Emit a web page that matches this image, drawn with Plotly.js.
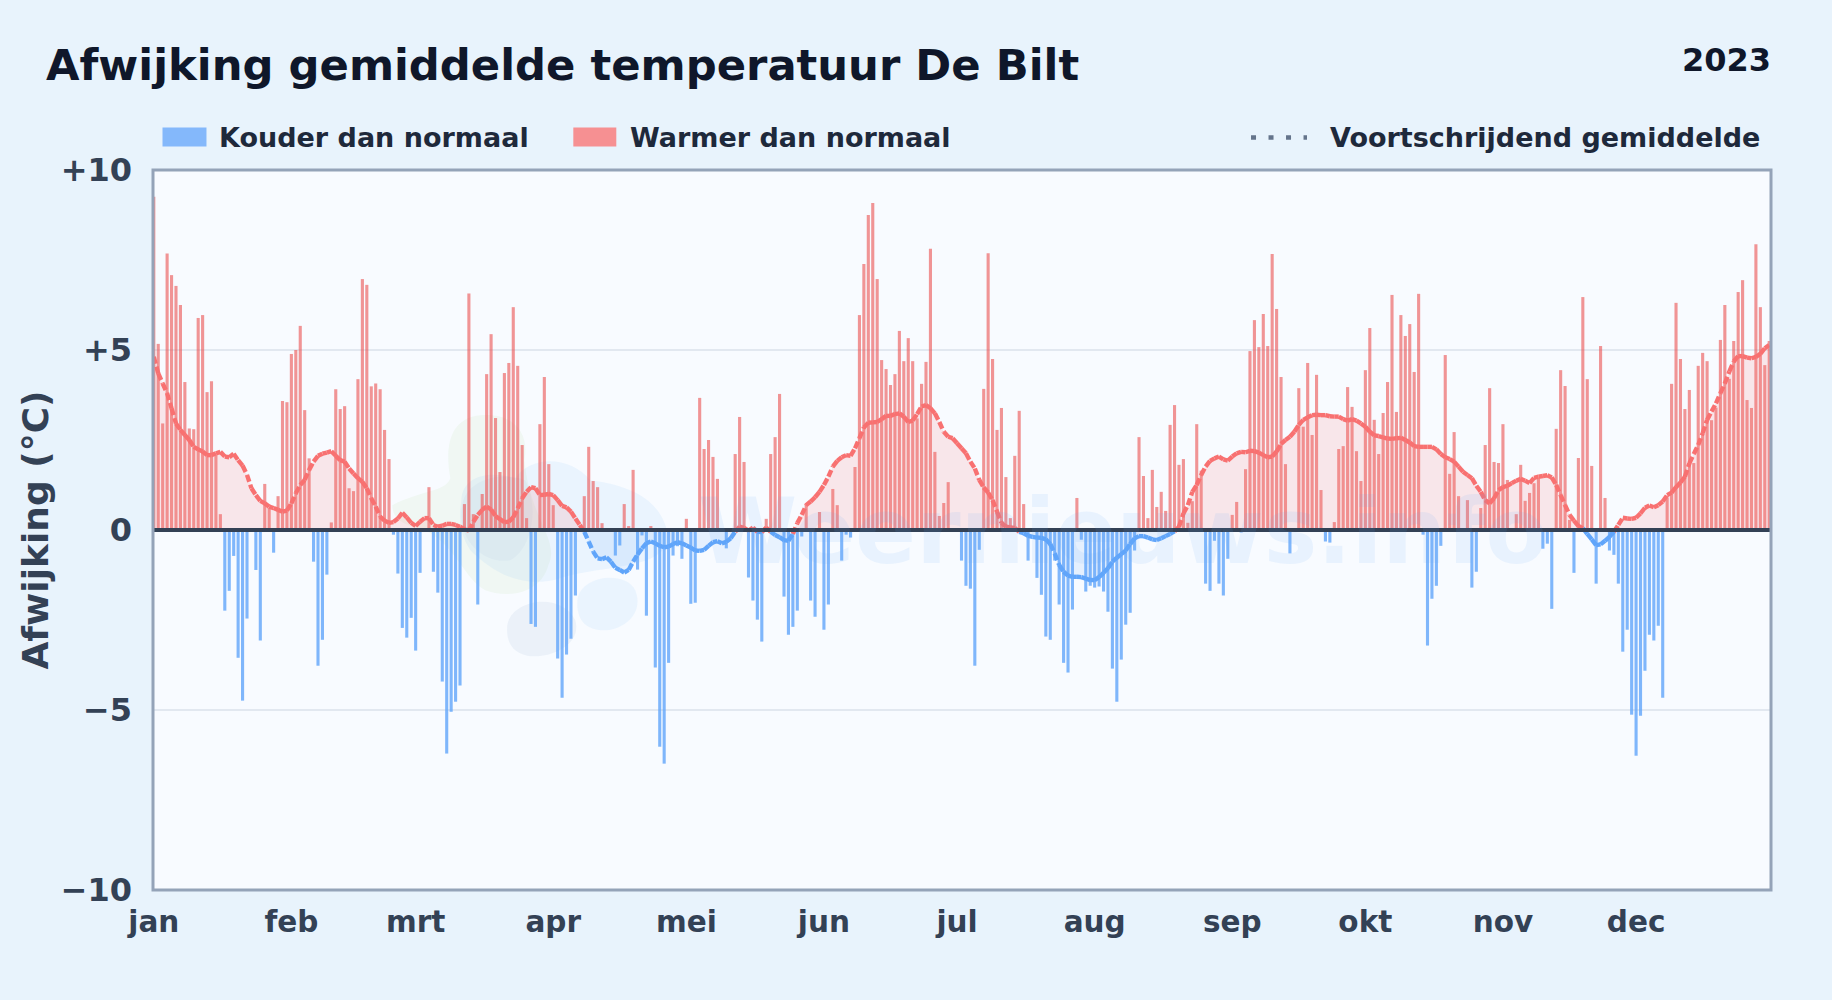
<!DOCTYPE html>
<html><head><meta charset="utf-8">
<script src="https://cdn.plot.ly/plotly-3.0.1.min.js"></script>
<style>html,body{margin:0;padding:0;background:#e8f3fc}#chart{width:1832px;height:1000px}</style>
</head><body><div id="chart"></div>
<script>
const titleText = "Afwijking gemiddelde temperatuur De Bilt";
const yearText = "2023";
const coldLabel = "Kouder dan normaal";
const warmLabel = "Warmer dan normaal";
const avgLabel = "Voortschrijdend gemiddelde";
const yTitle = "Afwijking (°C)";
const watermarkText = "Weernieuws.info";
const monthStarts = [0,31,59,90,120,151,181,212,243,273,304,334];
const monthLabels = ["jan","feb","mrt","apr","mei","jun","jul","aug","sep","okt","nov","dec"];
const yTicks = [10,5,0,-5,-10];
const yTickLabels = ["+10","+5","0","−5","−10"];

const dailyAnomaly = [
9.26,5.17,2.96,7.68,7.08,6.78,6.25,4.11,2.82,2.80,
5.89,5.97,3.83,4.13,2.08,0.44,-2.24,-1.69,-0.72,-3.55,
-4.74,-2.46,0,-1.11,-3.07,1.28,0.61,-0.63,0.94,3.58,
3.55,4.89,5.0,5.67,3.33,1.99,-0.88,-3.77,-3.05,-1.24,
0.21,3.91,3.36,3.44,1.16,1.08,4.19,6.97,6.81,3.99,
4.07,3.91,2.78,1.97,-0.13,-1.21,-2.72,-2.99,-2.44,-3.35,
-1.19,0,1.19,-1.16,-1.74,-4.21,-6.21,-5.05,-4.77,-4.32,
0.72,6.57,0.44,-2.07,1.0,4.33,5.44,3.11,1.61,4.36,
4.64,6.19,4.56,2.36,0.33,-2.61,-2.69,2.94,4.25,1.83,
0.69,-3.57,-4.66,-3.46,-3.02,-1.82,0,0.94,2.31,1.36,
1.19,0.19,0,0,-0.71,-0.43,0.72,0.11,1.67,-1.10,
-0.15,-2.38,0.11,-3.82,-6.02,-6.49,-3.69,-0.71,-0.45,-0.8,
0.31,-2.05,-2.02,3.67,2.25,2.5,2.03,1.42,0,-0.51,
0,2.11,3.14,1.89,-1.32,-1.96,-2.49,-3.10,0.31,2.11,
2.58,3.78,-1.85,-2.91,-2.69,-2.24,-0.18,0.74,-1.96,-2.41,
0.5,-2.77,-2.07,1.14,0.69,-0.85,-0.13,-0.21,1.75,5.97,
7.39,8.75,9.08,6.97,4.72,4.47,4.03,4.33,5.53,4.69,
5.33,4.69,3.1,4.06,4.67,7.81,2.17,0.39,0.75,1.33,
0,0,-0.85,-1.55,-1.63,-3.77,-0.55,3.92,7.69,4.75,
2.78,3.39,1.47,0.33,2.06,3.31,0.72,-0.85,0,-1.33,
-1.8,-2.96,-3.05,-0.85,-2.07,-3.69,-3.96,-2.21,0.89,-0.27,
-1.71,-1.55,-1.6,-1.57,-1.71,-2.27,-3.85,-4.77,-3.6,-2.63,
-2.3,-0.57,2.58,1.5,0.33,1.67,0.64,1.06,0.53,2.92,
3.47,1.81,1.97,0.2,0.8,2.94,1.65,-1.49,-1.69,-0.3,
-1.49,-1.82,-0.8,0.42,0.78,-0.07,1.69,4.97,5.83,5.08,
6.0,5.11,7.67,6.14,4.25,1.83,-0.65,0,3.94,2.87,
4.64,2.64,4.31,1.11,-0.32,-0.35,0.22,2.25,2.33,3.97,
3.42,2.19,1.36,4.44,5.61,3.06,2.11,3.25,4.11,6.53,
3.28,5.97,5.39,5.72,4.39,6.56,-0.13,-3.21,-1.91,-1.55,
-0.44,4.86,1.56,2.72,0.94,0,0.83,-1.6,-1.16,0.61,
2.36,3.94,1.89,1.86,2.94,1.39,0,0.44,1.81,0.81,
1.03,1.3,1.43,-0.52,-0.38,-2.19,2.81,4.44,4.0,0.28,
-1.19,2.0,6.47,4.19,1.78,-1.49,5.11,0.89,-0.57,-0.69,
-1.49,-3.38,-2.77,-5.13,-6.27,-5.16,-3.91,-2.91,-3.07,-2.66,
-4.66,0.9,4.06,6.31,4.75,3.36,3.89,1.86,4.56,4.92,
4.69,3.05,3.4,5.28,6.25,4.2,5.25,6.61,6.94,3.61,
3.39,7.94,6.19,4.58,5.25];

const rollingMean = [
4.81,4.35,4.07,3.8,3.38,2.96,2.78,2.64,2.5,2.31,
2.24,2.18,2.08,2.08,2.13,2.17,2.04,2.02,2.12,1.94,
1.79,1.53,1.16,0.97,0.81,0.74,0.65,0.61,0.56,0.51,
0.54,0.74,1.02,1.25,1.39,1.67,1.9,2.06,2.12,2.15,
2.19,2.06,1.94,1.9,1.71,1.57,1.44,1.34,1.16,0.88,
0.65,0.37,0.26,0.2,0.22,0.32,0.48,0.35,0.2,0.11,
0.23,0.33,0.33,0.14,0.09,0.12,0.17,0.17,0.14,0.09,
0.02,-0.02,0.23,0.42,0.56,0.65,0.57,0.39,0.3,0.22,
0.23,0.35,0.6,0.88,1.06,1.19,1.16,0.97,0.98,1.0,
0.97,0.83,0.67,0.63,0.51,0.32,0.14,-0.05,-0.32,-0.6,
-0.79,-0.81,-0.76,-0.88,-1.05,-1.11,-1.18,-1.11,-0.88,-0.68,
-0.51,-0.37,-0.32,-0.37,-0.44,-0.48,-0.46,-0.39,-0.34,-0.37,
-0.43,-0.49,-0.57,-0.58,-0.55,-0.44,-0.34,-0.31,-0.37,-0.33,
-0.23,-0.05,0.09,0.06,-0.02,0.07,-0.05,-0.06,0.07,-0.05,
-0.14,-0.2,-0.28,-0.3,-0.11,0.19,0.42,0.69,0.79,0.91,
1.06,1.25,1.48,1.76,1.92,2.02,2.08,2.06,2.27,2.55,
2.85,2.98,2.99,3.0,3.08,3.17,3.17,3.22,3.24,3.15,
3.0,3.04,3.22,3.43,3.47,3.38,3.24,3.0,2.73,2.59,
2.55,2.41,2.27,2.13,1.9,1.71,1.39,1.18,1.04,0.83,
0.51,0.2,0.09,0.07,0.06,-0.05,-0.09,-0.16,-0.19,-0.21,
-0.22,-0.26,-0.39,-0.65,-0.97,-1.16,-1.27,-1.3,-1.3,-1.31,
-1.35,-1.39,-1.39,-1.31,-1.19,-1.06,-0.88,-0.77,-0.67,-0.57,
-0.39,-0.23,-0.17,-0.17,-0.21,-0.26,-0.28,-0.23,-0.17,-0.11,
-0.04,0.09,0.46,0.69,1.06,1.25,1.53,1.76,1.92,1.99,
2.04,1.96,1.93,2.04,2.13,2.17,2.16,2.2,2.19,2.15,
2.08,2.02,2.04,2.18,2.39,2.5,2.59,2.73,2.92,3.06,
3.13,3.19,3.2,3.19,3.19,3.16,3.15,3.15,3.08,3.04,
3.08,3.04,2.96,2.87,2.73,2.63,2.61,2.57,2.54,2.53,
2.55,2.56,2.5,2.43,2.33,2.31,2.31,2.31,2.31,2.24,
2.11,2.02,1.97,1.9,1.76,1.62,1.53,1.44,1.23,1.06,
0.83,0.74,0.88,1.11,1.19,1.23,1.3,1.37,1.42,1.37,
1.3,1.45,1.48,1.5,1.52,1.46,1.25,0.97,0.69,0.42,
0.26,0.11,0.05,-0.11,-0.26,-0.42,-0.4,-0.3,-0.19,-0.05,
0.14,0.34,0.32,0.31,0.34,0.46,0.62,0.68,0.63,0.69,
0.79,0.97,1.04,1.19,1.32,1.48,1.85,2.11,2.36,2.69,
3.06,3.29,3.52,3.8,4.07,4.4,4.68,4.83,4.83,4.79,
4.77,4.81,4.89,5.05,5.14];

const days = dailyAnomaly.map((_, i) => i);
const dark = "#334155", ink = "#0f172a", legendInk = "#1e293b", F = "DejaVu Sans";
const W = 1832, H = 1000, L = 152.5, R = 1771.2, T = 169.5, B = 890;
const px = (x, y) => ((x - L) / (R - L)).toFixed(5) + "," + ((B - y) / (B - T)).toFixed(5);
const blob = (pts, fill) => ({type:"path", xref:"paper", yref:"paper", layer:"below", line:{width:0}, fillcolor:fill,
  path:"M" + px(pts[0][0], pts[0][1]) + pts.slice(1).map(c => " C" + px(c[0],c[1]) + " " + px(c[2],c[3]) + " " + px(c[4],c[5])).join("") + " Z"});

function segments(keep) {
  const xs = [], ys = [];
  for (let i = 0; i + 1 < rollingMean.length; i++) {
    if (keep((rollingMean[i] + rollingMean[i+1]) / 2)) { xs.push(days[i], days[i+1], null); ys.push(rollingMean[i], rollingMean[i+1], null); }
  }
  return [xs, ys];
}
const [wx, wy] = segments(v => v >= 0);
const [cx, cy] = segments(v => v < 0);
const lineDash = "7.2px,3px";

const traces = [
  {type:"bar", x:days, y:dailyAnomaly.map(v => v > 0 ? v : null), width:0.7, marker:{color:"rgba(236,84,84,0.62)", line:{width:0}}, name:warmLabel, showlegend:false, hoverinfo:"skip"},
  {type:"bar", x:days, y:dailyAnomaly.map(v => v < 0 ? v : null), width:0.7, marker:{color:"rgba(96,165,250,0.8)", line:{width:0}}, name:coldLabel, showlegend:false, hoverinfo:"skip"},
  {type:"scatter", mode:"lines", x:days, y:rollingMean.map(v => Math.max(v,0)), fill:"tozeroy", fillcolor:"rgba(248,113,113,0.15)", line:{width:0}, showlegend:false, hoverinfo:"skip"},
  {type:"scatter", mode:"lines", x:days, y:rollingMean.map(v => Math.min(v,0)), fill:"tozeroy", fillcolor:"rgba(96,165,250,0.12)", line:{width:0}, showlegend:false, hoverinfo:"skip"},
  {type:"scatter", mode:"lines", x:wx, y:wy, connectgaps:false, line:{color:"#f87171", width:4.4, dash:lineDash, simplify:false}, name:avgLabel, showlegend:false, hoverinfo:"skip"},
  {type:"scatter", mode:"lines", x:cx, y:cy, connectgaps:false, line:{color:"#60a5fa", width:4.4, dash:lineDash, simplify:false}, showlegend:false, hoverinfo:"skip"}
];

const pxX = x => (x - L) / (R - L), pxY = y => (B - y) / (B - T);
const note = (text, x, y, size, color, xanchor) => ({text, x:pxX(x), y:pxY(y), xref:"paper", yref:"paper", xanchor:xanchor||"left", yanchor:"middle", showarrow:false, font:{family:F, size, color, weight:700}});
const rect = (x0,y0,x1,y1,color) => ({type:"rect", xref:"paper", yref:"paper", x0:pxX(x0), x1:pxX(x1), y0:pxY(y0), y1:pxY(y1), fillcolor:color, line:{width:0}});

const layout = {
  width:W, height:H, paper_bgcolor:"#e8f3fc", plot_bgcolor:"#f8fbff", barmode:"overlay", showlegend:false,
  margin:{l:L, r:W-R, t:T, b:H-B, pad:0},
  title:{text:titleText, font:{family:F, size:43.3, color:ink, weight:700}, x:46/W, xanchor:"left", y:1-65/H, yanchor:"middle"},
  xaxis:{range:[-0.18,364.4], tickmode:"array", tickvals:monthStarts, ticktext:monthLabels, ticks:"", showgrid:false, zeroline:false, showline:false, tickfont:{family:F, size:29.5, color:dark, weight:700}, ticklabelstandoff:11, automargin:false},
  yaxis:{range:[-10,10], tickmode:"array", tickvals:yTicks, ticktext:yTickLabels, ticks:"", gridcolor:"#e2e8f0", gridwidth:2, zeroline:false, showline:false, tickfont:{family:F, size:32, color:dark, weight:700}, ticklabelstandoff:20, automargin:false,
    title:{text:yTitle, font:{family:F, size:36, color:dark, weight:700}, standoff:1}},
  annotations:[
    note(yearText, 1773, 59, 32, ink, "right"),
    note(coldLabel, 217, 137, 27, legendInk),
    note(warmLabel, 628, 137, 27, legendInk),
    note(avgLabel, 1762, 137, 27, legendInk, "right"),
    {text:watermarkText, x:pxX(1122), y:pxY(531), xref:"paper", yref:"paper", xanchor:"center", yanchor:"middle", showarrow:false, font:{family:F, size:90, color:"rgba(96,165,250,0.10)", weight:700}}
  ],
  shapes:[
    blob([[392,505],[420,490,445,492,450,478],[444,445,450,418,480,415],[510,412,530,430,524,460],[530,520,560,540,548,565],[540,595,505,598,485,590],[465,580,455,545,425,530],[405,525,392,520,392,505]],"rgba(190,225,170,0.14)"),
    blob([[461,500],[462,475,490,470,515,478],[530,455,570,455,590,480],[630,485,665,500,668,540],[660,570,600,565,560,578],[520,590,490,570,470,550],[460,535,458,520,461,500]],"rgba(120,185,245,0.10)"),
    blob([[462,505],[465,480,500,470,525,480],[540,510,530,550,510,560],[485,565,455,540,462,505]],"rgba(90,130,200,0.05)"),
    blob([[577,600],[580,575,625,570,635,590],[645,615,620,632,600,630],[585,628,576,620,577,600]],"rgba(120,185,245,0.10)"),
    blob([[507,625],[510,600,560,590,575,620],[582,645,550,658,530,656],[515,654,505,645,507,625]],"rgba(70,110,170,0.07)"),
    {type:"line", xref:"paper", yref:"y", x0:0, x1:1, y0:0, y1:0, line:{color:dark, width:4}},
    {type:"rect", xref:"paper", yref:"paper", x0:0, x1:1, y0:0, y1:1, line:{color:"#94a3b8", width:3}},
    rect(162,127,206,146,"#84b8fb"),
    rect(573,127,616,146,"#f69092"),
    {type:"line", xref:"paper", yref:"paper", x0:pxX(1251), x1:pxX(1307), y0:pxY(137), y1:pxY(137), line:{color:"#64748b", width:4.5, dash:"5px,12.5px"}}
  ]
};
Plotly.newPlot("chart", traces, layout, {displayModeBar:false, staticPlot:true});
</script></body></html>
